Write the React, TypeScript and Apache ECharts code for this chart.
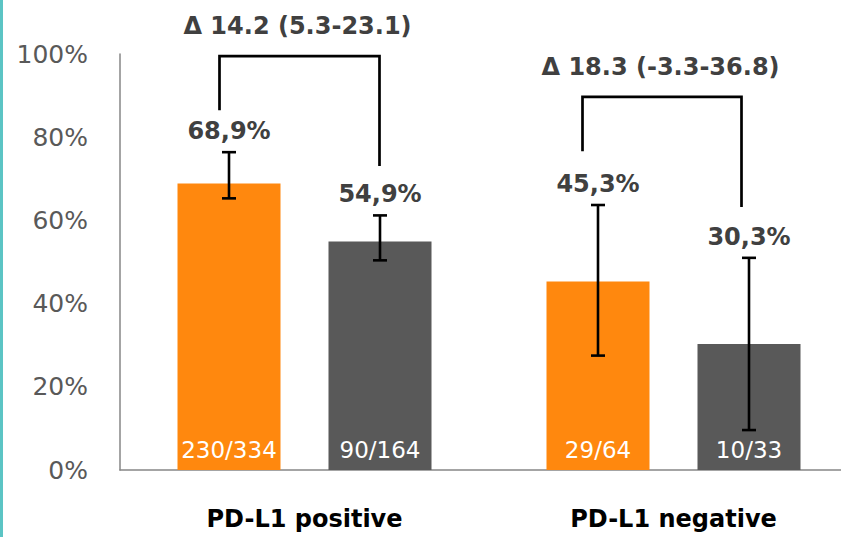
import React, { useEffect, useRef } from "react";
import * as echarts from "echarts";

const categories = ["PD-L1 positive", "PD-L1 negative"];
const orangeValues = [68.9, 45.3];
const grayValues = [54.9, 30.3];
const orangeCounts = ["230/334", "29/64"];
const grayCounts = ["90/164", "10/33"];
const orangeLow = [65.3, 27.5];
const orangeHigh = [76.4, 63.7];
const grayLow = [50.4, 9.6];
const grayHigh = [61.2, 51.0];
const bracketTop = [99.5, 89.7];
const bracketLeftEnd = [86.5, 76.6];
const bracketRightEnd = [73.1, 63.2];
const deltaLabels = ["Δ 14.2 (5.3-23.1)", "Δ 18.3 (-3.3-36.8)"];
const yTicks = [0, 20, 40, 60, 80, 100];

// style: horizontal offsets (px) of bracket legs and labels from category centre
const BR_LEFT_OFF = [-85, -91];
const BR_RIGHT_OFF = [75, 68];
const BR_TEXT_OFF = [-7, -13];

const FONT = "'DejaVu Sans', sans-serif";
const ORANGE = "#FF880E";
const GRAY = "#595959";
const BAR_W = 103;
const BAR_GAP = 48;
const HALF = (BAR_W + BAR_GAP) / 2;

const fmtPct = (v: number) => v.toFixed(1).replace(".", ",") + "%";

export default function App() {
  const ref = useRef<HTMLDivElement>(null);
  useEffect(() => {
    if (!ref.current) return;
    const chart = echarts.init(ref.current, null, { renderer: "svg" });

    const errData: any[] = [];
    categories.forEach((_, i) => {
      errData.push([i, orangeLow[i], orangeHigh[i], orangeValues[i], 0]);
      errData.push([i, grayLow[i], grayHigh[i], grayValues[i], 1]);
    });
    const brData = categories.map((_, i) => [i, bracketTop[i], bracketLeftEnd[i], bracketRightEnd[i]]);

    chart.setOption({
      animation: false,
      graphic: [
        { type: "rect", left: 0, top: 0, shape: { x: 0, y: 0, width: 3, height: 537 }, style: { fill: "#5BC4C4" } },
      ],
      grid: { left: 120, top: 54, width: 738, height: 416, outerBoundsMode: "none", containLabel: false },
      xAxis: {
        type: "category",
        data: categories,
        axisLine: { show: true, lineStyle: { color: "#868686", width: 1.5 } },
        axisTick: { show: false },
        axisLabel: { fontFamily: FONT, fontWeight: "bold", fontSize: 24, color: "#000", margin: 37 },
      },
      yAxis: {
        type: "value",
        min: 0,
        max: 100,
        interval: 20,
        axisLine: { show: true, lineStyle: { color: "#868686", width: 1.5 } },
        axisTick: { show: false },
        splitLine: { show: false },
        axisLabel: {
          fontFamily: FONT,
          fontSize: 25,
          color: GRAY,
          margin: 32,
          formatter: (v: number) => (yTicks.includes(v) ? v + "%" : ""),
        },
      },
      series: [
        {
          type: "bar",
          data: orangeValues,
          barWidth: BAR_W,
          barGap: (BAR_GAP / BAR_W) * 100 + "%",
          itemStyle: { color: ORANGE },
          label: {
            show: true,
            position: "insideBottom",
            distance: 9,
            color: "#fff",
            fontFamily: FONT,
            fontSize: 23,
            formatter: (p: any) => orangeCounts[p.dataIndex],
          },
        },
        {
          type: "bar",
          data: grayValues,
          barWidth: BAR_W,
          itemStyle: { color: GRAY },
          label: {
            show: true,
            position: "insideBottom",
            distance: 9,
            color: "#fff",
            fontFamily: FONT,
            fontSize: 23,
            formatter: (p: any) => grayCounts[p.dataIndex],
          },
        },
        {
          type: "custom",
          data: errData,
          z: 10,
          renderItem: (params: any, api: any) => {
            const cat = api.value(0);
            const low = api.value(1);
            const high = api.value(2);
            const val = api.value(3);
            const s = api.value(4);
            const cx = api.coord([cat, 0])[0] + (s === 0 ? -HALF : HALF);
            const yl = api.coord([cat, low])[1];
            const yh = api.coord([cat, high])[1];
            const ls = { stroke: "#000", lineWidth: 2.6 };
            return {
              type: "group",
              children: [
                { type: "line", shape: { x1: cx, y1: yl, x2: cx, y2: yh }, style: ls },
                { type: "line", shape: { x1: cx - 7, y1: yl, x2: cx + 7, y2: yl }, style: ls },
                { type: "line", shape: { x1: cx - 7, y1: yh, x2: cx + 7, y2: yh }, style: ls },
                {
                  type: "text",
                  x: cx,
                  y: yh - 21,
                  style: {
                    text: fmtPct(val),
                    fill: "#404040",
                    font: `bold 24px ${FONT}`,
                    align: "center",
                    verticalAlign: "middle",
                  },
                },
              ],
            };
          },
        },
        {
          type: "custom",
          data: brData,
          z: 10,
          renderItem: (params: any, api: any) => {
            const i = params.dataIndex;
            const cat = api.value(0);
            const c = api.coord([cat, 0])[0];
            const yt = api.coord([cat, api.value(1)])[1];
            const yl = api.coord([cat, api.value(2)])[1];
            const yr = api.coord([cat, api.value(3)])[1];
            const xl = c + BR_LEFT_OFF[i];
            const xr = c + BR_RIGHT_OFF[i];
            return {
              type: "group",
              children: [
                {
                  type: "polyline",
                  shape: { points: [[xl, yl], [xl, yt], [xr, yt], [xr, yr]] },
                  style: { stroke: "#000", lineWidth: 2.7, fill: "none" },
                },
                {
                  type: "text",
                  x: c + BR_TEXT_OFF[i],
                  y: yt - 30,
                  style: {
                    text: deltaLabels[i],
                    fill: "#404040",
                    font: `bold 24px ${FONT}`,
                    align: "center",
                    verticalAlign: "middle",
                  },
                },
              ],
            };
          },
        },
      ],
    });
    return () => chart.dispose();
  }, []);
  return (
    <div
      ref={ref}
      style={{ position: "fixed", left: 0, top: 0, width: 841, height: 537, background: "#fff" }}
    />
  );
}
